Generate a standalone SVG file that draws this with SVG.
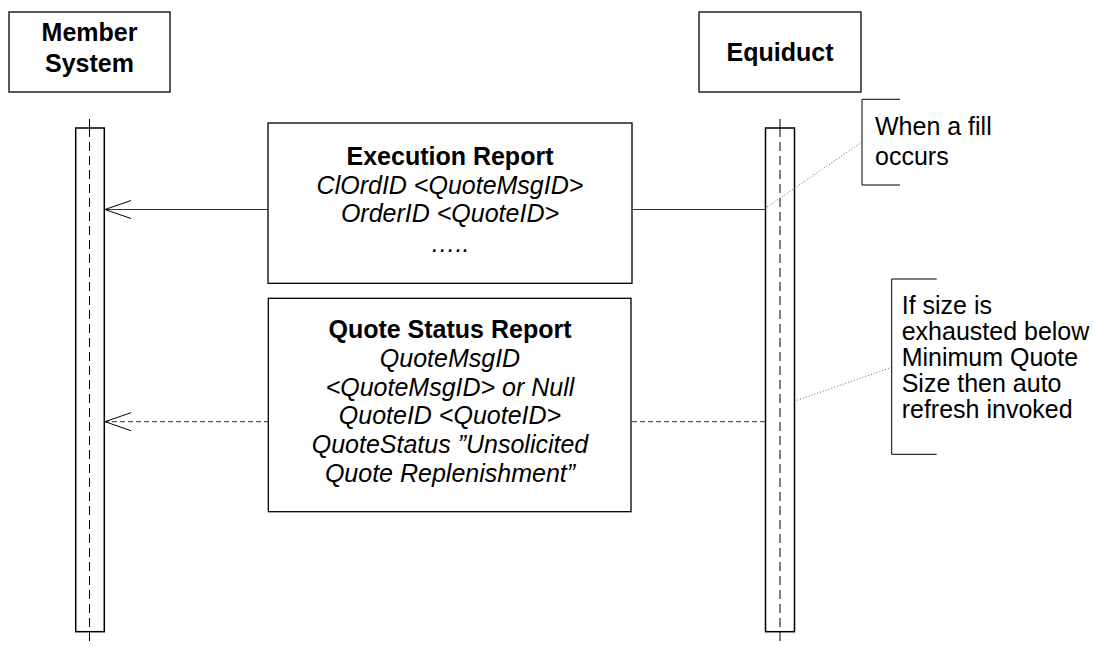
<svg xmlns="http://www.w3.org/2000/svg" width="1094" height="647" viewBox="0 0 1094 647">
<style>
.box{fill:#fff;stroke:#000;stroke-width:1.3}
.act{fill:#fff;stroke:#000;stroke-width:1.5}
.life{stroke:#000;stroke-width:1;stroke-dasharray:9,5;fill:none}
.tick{stroke:#000;stroke-width:1;fill:none}
.msg{stroke:#333;stroke-width:1;fill:none}
.dash{stroke-dasharray:5,3}
.dot{stroke:#666;stroke-width:1;stroke-dasharray:1,2;fill:none}
.note{stroke:#000;stroke-width:1;fill:none}
text{font-family:"Liberation Sans",Arial,sans-serif;font-size:25px;fill:#000}
.b{font-weight:bold}
.i{font-style:italic}
.c{text-anchor:middle}
</style>
<defs>
<marker id="open" markerWidth="30" markerHeight="22" refX="27" refY="10" orient="auto" markerUnits="userSpaceOnUse">
<path d="M1,1 L27,10 L1,19" fill="none" stroke="#000" stroke-width="1"/>
</marker>
</defs>
<g id="member-system">
<rect class="box" x="9" y="12" width="161" height="80"/>
<text class="b c" x="89.5" y="41">Member</text>
<text class="b c" x="89.5" y="72">System</text>
<line class="tick" x1="89.5" y1="119" x2="89.5" y2="128"/>
<rect class="act" x="75.7" y="128" width="28.6" height="503.7"/>
<line class="life" x1="89.5" y1="128" x2="89.5" y2="631.7"/>
<line class="tick" x1="89.5" y1="631.7" x2="89.5" y2="641"/>
</g>
<g id="equiduct">
<rect class="box" x="699" y="12" width="162" height="80"/>
<text class="b c" x="780" y="61">Equiduct</text>
<line class="tick" x1="780" y1="119" x2="780" y2="128"/>
<rect class="act" x="765.5" y="128" width="29" height="503.7"/>
<line class="life" x1="780" y1="128" x2="780" y2="631.7"/>
<line class="tick" x1="780" y1="631.7" x2="780" y2="641"/>
</g>
<g id="connectors">
<line class="msg" x1="765" y1="209.5" x2="105" y2="209.5" marker-end="url(#open)"/>
<line class="msg dash" x1="765" y1="421.7" x2="105" y2="421.7" marker-end="url(#open)"/>
<line class="dot" x1="862" y1="142" x2="767" y2="207"/>
<line class="dot" x1="891.7" y1="367.3" x2="795" y2="401"/>
</g>
<g id="execution-report">
<rect class="box" x="268" y="123" width="364" height="160.3"/>
<text class="b c" x="450" y="165">Execution Report</text>
<text class="i c" x="450" y="194">ClOrdID &lt;QuoteMsgID&gt;</text>
<text class="i c" x="450" y="222">OrderID &lt;QuoteID&gt;</text>
<text class="i c" x="450" y="252">…..</text>
</g>
<g id="quote-status-report">
<rect class="box" x="268.3" y="298.3" width="362.7" height="213.4"/>
<text class="b c" x="450" y="338">Quote Status Report</text>
<text class="i c" x="450" y="367">QuoteMsgID</text>
<text class="i c" x="450" y="396">&lt;QuoteMsgID&gt; or Null</text>
<text class="i c" x="450" y="424">QuoteID &lt;QuoteID&gt;</text>
<text class="i c" x="450" y="453">QuoteStatus ”Unsolicited</text>
<text class="i c" x="450" y="482">Quote Replenishment”</text>
</g>
<g id="note-fill">
<path class="note" d="M900,99.3 H862 V185 H900"/>
<text x="875" y="135">When a fill</text>
<text x="875" y="165">occurs</text>
</g>
<g id="note-refresh">
<path class="note" d="M936.7,279 H891.7 V454.3 H936.7"/>
<text x="901.7" y="314">If size is</text>
<text x="901.7" y="340">exhausted below</text>
<text x="901.7" y="366">Minimum Quote</text>
<text x="901.7" y="392">Size then auto</text>
<text x="901.7" y="418">refresh invoked</text>
</g>
</svg>
